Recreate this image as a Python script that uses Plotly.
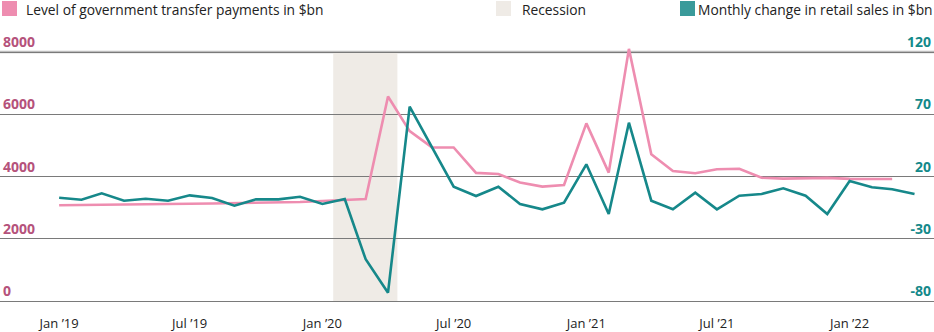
import pandas as pd
import plotly.graph_objects as go

# Monthly observations, Jan 2019 onwards
months = pd.date_range("2019-01-01", periods=40, freq="MS")

# Level of government transfer payments ($bn), Jan 2019 - Mar 2022
transfers = [
    3080, 3085, 3095, 3105, 3115, 3120, 3130, 3140, 3150, 3160, 3170, 3185,
    3220, 3250, 3285, 6570, 5460, 4940, 4935, 4120, 4085, 3810, 3680, 3730,
    5710, 4130, 8100, 4720, 4180, 4110, 4235, 4255, 3965, 3935, 3955, 3960,
    3930, 3925, 3925,
]

# Monthly change in retail sales ($bn), Jan 2019 - Apr 2022
retail_change = [
    3.1, 1.5, 6.6, 0.7, 2.3, 0.7, 5.0, 2.9, -3.3, 1.8, 1.8, 3.9,
    -1.9, 2.1, -46.3, -73.1, 76.1, 43.7, 11.9, 4.5, 11.9, -1.9, -6.2, -0.9,
    29.9, -10.0, 63.3, 0.7, -6.2, 7.1, -6.2, 4.7, 6.1, 10.7, 4.7, -10.0,
    16.5, 11.5, 9.9, 6.1,
]

recession_start = "2020-01-16"
recession_end = "2020-04-14"

left_ticks = [0, 2000, 4000, 6000, 8000]
left_tick_labels = ["0", "2000", "4000", "6000", "8000"]
right_ticks = [-80, -30, 20, 70, 120]
right_tick_labels = ["-80", "-30", "20", "70", "120"]
x_tick_dates = ["2019-01-01", "2019-07-01", "2020-01-01", "2020-07-01",
                "2021-01-01", "2021-07-01", "2022-01-01"]
x_tick_labels = ["Jan \u201919", "Jul \u201919", "Jan \u201920", "Jul \u201920",
                 "Jan \u201921", "Jul \u201921", "Jan \u201922"]

legend_labels = ["Level of government transfer payments in $bn",
                 "Recession",
                 "Monthly change in retail sales in $bn"]

PINK = "#ee8db0"
TEAL = "#16888a"
PINK_TEXT = "#b5527b"
TEAL_TEXT = "#14898a"
SHADE = "#efebe6"
FONT = "Open Sans"

W, H = 934, 332
M_TOP, M_BOTTOM = 30, 26
PLOT_H = H - M_TOP - M_BOTTOM


def paper_y(px_from_top):
    """Convert a pixel offset from the top of the figure to paper y."""
    return (H - M_BOTTOM - px_from_top) / PLOT_H


fig = go.Figure()

fig.add_trace(go.Scatter(
    x=months[:len(transfers)], y=transfers, mode="lines",
    line=dict(color=PINK, width=2.6), yaxis="y", showlegend=False,
))
fig.add_trace(go.Scatter(
    x=months, y=retail_change, mode="lines",
    line=dict(color=TEAL, width=2.6), yaxis="y2", showlegend=False,
))

# Recession band
fig.add_shape(type="rect", xref="x", yref="y",
              x0=recession_start, x1=recession_end, y0=0, y1=8000,
              fillcolor=SHADE, line_width=0, layer="below")
# Lighter, heavier top rule
fig.add_shape(type="line", xref="paper", yref="y", x0=0, x1=1, y0=8000, y1=8000,
              line=dict(color="#bdbdbd", width=2.5), layer="below")

# Legend row drawn across the top: (label, swatch colour, swatch x, text x, anchor)
legend_items = [
    (legend_labels[0], PINK, 2, 25, "left"),
    (legend_labels[1], SHADE, 496, 521, "left"),
    (legend_labels[2], "#3a9a9a", 680, 934, "right"),
]
for label, color, sq_x, tx_x, anchor in legend_items:
    fig.add_shape(type="rect", xref="paper", yref="paper",
                  x0=sq_x / W, x1=(sq_x + 15) / W,
                  y0=paper_y(16), y1=paper_y(1),
                  fillcolor=color, line_width=0)
    fig.add_annotation(xref="paper", yref="paper", x=tx_x / W, y=paper_y(9),
                       text=label, showarrow=False, xanchor=anchor, yanchor="middle",
                       borderpad=0,
                       font=dict(family=FONT, size=13.8, color="#222222"))

fig.update_layout(
    width=W, height=H,
    margin=dict(l=0, r=0, t=M_TOP, b=M_BOTTOM),
    paper_bgcolor="white", plot_bgcolor="white",
    showlegend=False,
    font=dict(family=FONT),
    xaxis=dict(
        type="date",
        range=["2018-10-11", "2022-04-28"],
        tickvals=x_tick_dates, ticktext=x_tick_labels,
        showgrid=False, zeroline=False, showline=False, ticks="",
        tickfont=dict(family=FONT, size=13, color="#222222"),
        ticklabelstandoff=8,
    ),
    yaxis=dict(
        range=[-151, 8706],
        tickvals=left_ticks, ticktext=left_tick_labels,
        showgrid=True, gridcolor="#7a7a7a", gridwidth=1,
        zeroline=False, showline=False, ticks="",
        ticklabelposition="inside top",
        tickfont=dict(family=FONT, size=14, color=PINK_TEXT, weight=700),
    ),
    yaxis2=dict(
        range=[-83.77, 137.65],
        tickvals=right_ticks, ticktext=right_tick_labels,
        overlaying="y", side="right",
        showgrid=False, zeroline=False, showline=False, ticks="",
        ticklabelposition="inside top",
        tickfont=dict(family=FONT, size=14, color=TEAL_TEXT, weight=700),
    ),
)

fig.write_html("out.html")
